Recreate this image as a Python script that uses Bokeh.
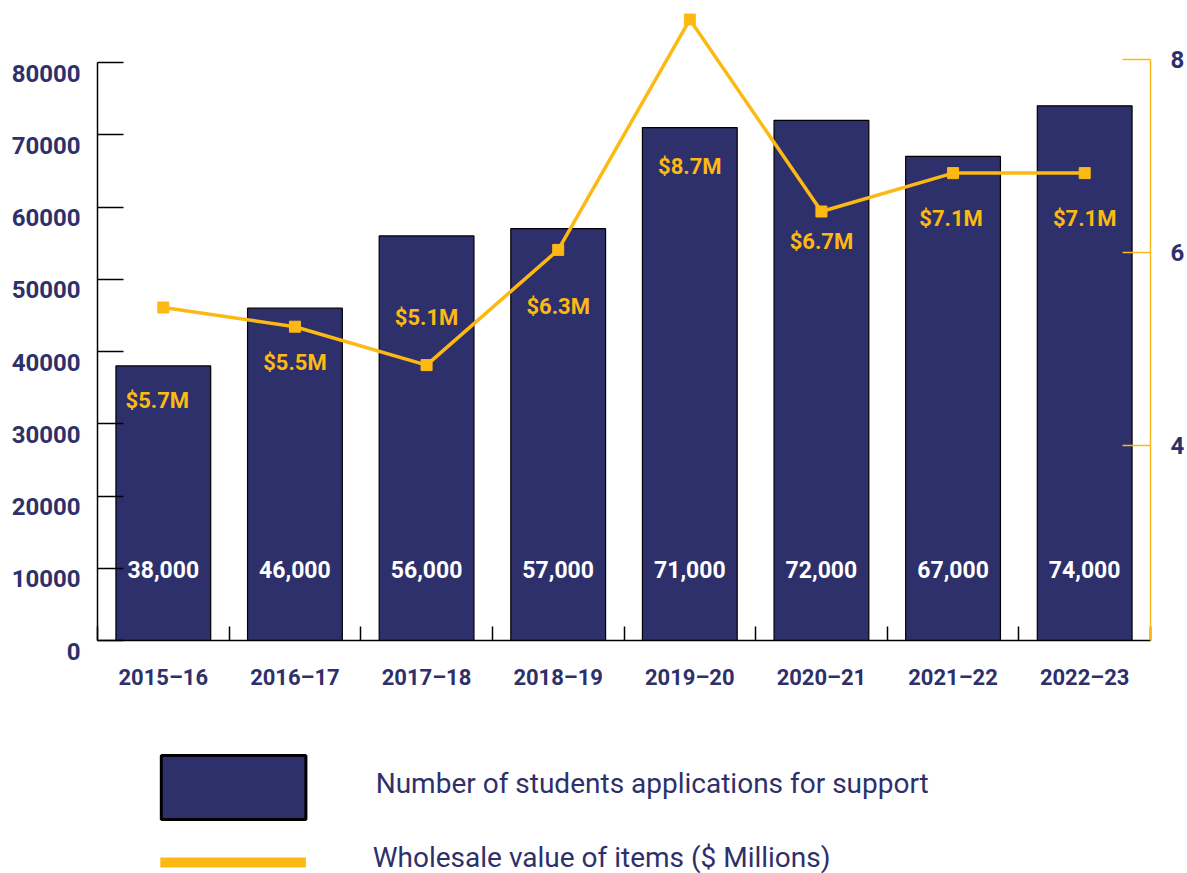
import numpy as np
from bokeh.plotting import figure
from bokeh.models import Range1d, LinearAxis, FixedTicker, ColumnDataSource
from bokeh.layouts import column
from bokeh.core.properties import value
from bokeh.embed import file_html
from bokeh.resources import INLINE

# ---- data ----
categories = ["2015–16", "2016–17", "2017–18", "2018–19", "2019–20", "2020–21", "2021–22", "2022–23"]
students = [38000, 46000, 56000, 57000, 71000, 72000, 67000, 74000]
wholesale = [5.7, 5.5, 5.1, 6.3, 8.7, 6.7, 7.1, 7.1]
left_ticks = [0, 10000, 20000, 30000, 40000, 50000, 60000, 70000, 80000]
right_ticks = [4, 6, 8]
series_names = ["Number of students applications for support",
                "Wholesale value of items ($ Millions)"]

# label placement (screen px offsets of the value labels from their points)
label_dy = [93, 36, -48, 57, 147, 30, 45, 45]
label_dx = [-6, 0, 0, 0, 0, 0, -2, 0]

NAVY = "#2e306b"
YELLOW = "#fdb913"
FONT = value("Roboto")

x = np.arange(len(categories)) + 0.5
src = ColumnDataSource(dict(
    x=x, students=students, wholesale=wholesale,
    s_lab=[f"{v:,}" for v in students],
    w_lab=[f"${v}M" for v in wholesale],
    dy=label_dy, dx=label_dx,
))

p = figure(width=1187, height=700, x_range=Range1d(0, len(categories)),
           y_range=Range1d(0, 87200), output_backend="svg", toolbar_location=None,
           min_border_left=97, min_border_right=34, min_border_top=10,
           min_border_bottom=60, outline_line_color=None)
p.xgrid.visible = False
p.ygrid.visible = False
p.extra_y_ranges = {"line": Range1d(2.231, 8.794), "raxis": Range1d(1.982, 8.511)}

# left axis (labels sit a little below their ticks, as in the original)
ya = p.yaxis[0]
ya.ticker = FixedTicker(ticks=left_ticks)
ya.bounds = (0, 80000)
ya.major_tick_in = 26
ya.major_tick_out = 0
ya.minor_tick_in = 0
ya.minor_tick_out = 0
ya.axis_line_width = 1.5
ya.axis_line_color = "black"
ya.major_tick_line_width = 1.5
ya.major_tick_line_color = "black"
ya.major_label_overrides = {t: "\n" + str(t) for t in left_ticks}
ya.major_label_text_line_height = 0.8
ya.major_label_text_font = "Roboto"
ya.major_label_text_font_style = "bold"
ya.major_label_text_font_size = "24px"
ya.major_label_text_color = NAVY
ya.major_label_standoff = 17

# x axis
xa = p.xaxis[0]
xa.ticker = FixedTicker(ticks=list(x), minor_ticks=list(range(0, len(categories) + 1)))
xa.major_label_overrides = {float(xi): c for xi, c in zip(x, categories)}
xa.major_tick_in = 0
xa.major_tick_out = 0
xa.minor_tick_in = 14
xa.minor_tick_out = 0
xa.minor_tick_line_color = "black"
xa.minor_tick_line_width = 1.5
xa.axis_line_width = 1.5
xa.axis_line_color = "black"
xa.major_label_text_font = "Roboto"
xa.major_label_text_font_style = "bold"
xa.major_label_text_font_size = "22px"
xa.major_label_text_color = NAVY
xa.major_label_standoff = 24

# right axis
ra = LinearAxis(y_range_name="raxis", ticker=FixedTicker(ticks=right_ticks),
                bounds=(1.982, 8), axis_line_color=YELLOW, axis_line_width=1.5,
                major_tick_line_color=YELLOW, major_tick_line_width=1.5,
                major_tick_in=28, major_tick_out=0, minor_tick_in=0, minor_tick_out=0,
                major_label_text_font="Roboto", major_label_text_font_style="bold",
                major_label_text_font_size="24px", major_label_text_color=NAVY,
                major_label_standoff=20)
p.add_layout(ra, "right")

# bars
p.vbar(x="x", top="students", width=0.72, source=src, fill_color=NAVY,
       line_color="black", line_width=1.2)
p.text(x="x", y=9800, text="s_lab", source=src, text_align="center",
       text_baseline="middle", text_color="white", text_font=FONT,
       text_font_style="bold", text_font_size="23px")

# line
p.line(x="x", y="wholesale", source=src, y_range_name="line", line_color=YELLOW,
       line_width=3.5)
p.scatter(x="x", y="wholesale", source=src, y_range_name="line", marker="square",
          size=11, fill_color=YELLOW, line_color=YELLOW)
p.text(x="x", y="wholesale", text="w_lab", source=src, y_range_name="line",
       x_offset="dx", y_offset="dy", text_align="center", text_baseline="middle",
       text_color=YELLOW, text_font=FONT, text_font_style="bold", text_font_size="22px")

# legend figure (its frame is aligned with the chart frame: x 97..1153 on the page)
leg = figure(width=1187, height=173, x_range=Range1d(97, 1153), y_range=Range1d(873, 700),
             output_backend="svg", toolbar_location=None, min_border=0,
             min_border_left=97, min_border_right=34,
             x_axis_location=None, y_axis_location=None, outline_line_color=None)
leg.xgrid.visible = False
leg.ygrid.visible = False
leg.quad(left=[161], right=[306], top=[755], bottom=[819], fill_color=NAVY,
         line_color="black", line_width=3)
leg.line(x=[160, 306], y=[862, 862], line_color=YELLOW, line_width=10)
leg.text(x=[376, 373], y=[783, 857], text=series_names, text_align="left",
         text_baseline="middle", text_color=NAVY, text_font=FONT,
         text_font_size="28px")

layout = column(p, leg, spacing=0)
open("out.html", "w").write(file_html(layout, INLINE))
